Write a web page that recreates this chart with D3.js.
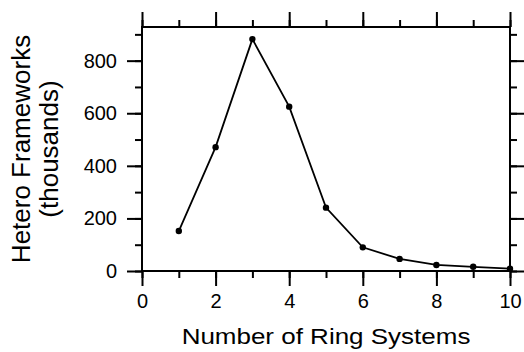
<!DOCTYPE html>
<html>
<head>
<meta charset="utf-8">
<script src="https://cdn.jsdelivr.net/npm/d3@7"></script>
<style>
  body { margin: 0; background: #fff; }
  svg text { font-family: "Liberation Sans", Arial, Helvetica, sans-serif; fill: #000; }
</style>
</head>
<body>
<div id="chart"></div>
<script>
// data
const ringSystems = [1, 2, 3, 4, 5, 6, 7, 8, 9, 10];
const frameworks = [152, 471, 882, 625, 241, 90, 46, 23, 16, 9]; // thousands
const xTicks = [0, 2, 4, 6, 8, 10];
const yTicks = [0, 200, 400, 600, 800];

const width = 524;
const height = 352;
const margin = { top: 27, right: 14, bottom: 81, left: 142 };
const innerW = width - margin.left - margin.right;
const innerH = height - margin.top - margin.bottom;

const svg = d3.select('#chart')
  .append('svg')
  .attr('width', width)
  .attr('height', height);

const g = svg.append('g')
  .attr('transform', `translate(${margin.left},${margin.top})`);

const x = d3.scaleLinear().domain([0, 10]).range([0, innerW]);
const y = d3.scaleLinear().domain([0, 928]).range([innerH, 0]);

const major = 15;
const minor = 7;

// helper to style an axis: thick lines, no domain path
function styleAxis(sel) {
  sel.select('.domain').remove();
  sel.selectAll('line').attr('stroke', '#000').attr('stroke-width', 2);
  sel.selectAll('text').style('font-size', '20px');
}

// minor ticks first, majors on top
const xMinor = d3.range(0, 11, 1);
const yMinor = d3.range(0, 901, 100);

g.append('g').attr('transform', `translate(0,${innerH})`)
  .call(d3.axisBottom(x).tickValues(xMinor).tickSize(minor).tickFormat(''))
  .call(styleAxis);
g.append('g')
  .call(d3.axisTop(x).tickValues(xMinor).tickSize(minor).tickFormat(''))
  .call(styleAxis);
g.append('g')
  .call(d3.axisLeft(y).tickValues(yMinor).tickSize(minor).tickFormat(''))
  .call(styleAxis);
g.append('g').attr('transform', `translate(${innerW},0)`)
  .call(d3.axisRight(y).tickValues(yMinor).tickSize(minor).tickFormat(''))
  .call(styleAxis);

g.append('g').attr('transform', `translate(0,${innerH})`)
  .call(d3.axisBottom(x).tickValues(xTicks).tickSize(major).tickPadding(8).tickFormat(d3.format('d')))
  .call(styleAxis);
g.append('g')
  .call(d3.axisTop(x).tickValues(xTicks).tickSize(major).tickFormat(''))
  .call(styleAxis);
g.append('g')
  .call(d3.axisLeft(y).tickValues(yTicks).tickSize(major).tickPadding(10).tickFormat(d3.format('d')))
  .call(styleAxis);
g.append('g').attr('transform', `translate(${innerW},0)`)
  .call(d3.axisRight(y).tickValues(yTicks).tickSize(major).tickFormat(''))
  .call(styleAxis);

// frame
g.append('rect')
  .attr('width', innerW)
  .attr('height', innerH)
  .attr('fill', 'none')
  .attr('stroke', '#000')
  .attr('stroke-width', 2);

const pts = ringSystems.map((d, i) => ({ x: d, y: frameworks[i] }));

g.append('path')
  .datum(pts)
  .attr('fill', 'none')
  .attr('stroke', '#000')
  .attr('stroke-width', 1.8)
  .attr('d', d3.line().x(d => x(d.x)).y(d => y(d.y)));

g.selectAll('circle')
  .data(pts)
  .enter()
  .append('circle')
  .attr('cx', d => x(d.x))
  .attr('cy', d => y(d.y))
  .attr('r', 3.2)
  .attr('fill', '#000');

// axis titles (x title is slightly flattened, like the original)
svg.append('text')
  .attr('transform', `translate(${margin.left + innerW / 2},344) scale(1,0.88)`)
  .attr('text-anchor', 'middle')
  .style('font-size', '26px')
  .text('Number of Ring Systems');

const yt = svg.append('text')
  .attr('transform', 'translate(30,149) rotate(-90)')
  .attr('text-anchor', 'middle')
  .style('font-size', '26px');
yt.append('tspan').attr('x', 0).attr('y', 0).text('Hetero Frameworks');
yt.append('tspan').attr('x', 0).attr('y', 28).text('(thousands)');
</script>
</body>
</html>
